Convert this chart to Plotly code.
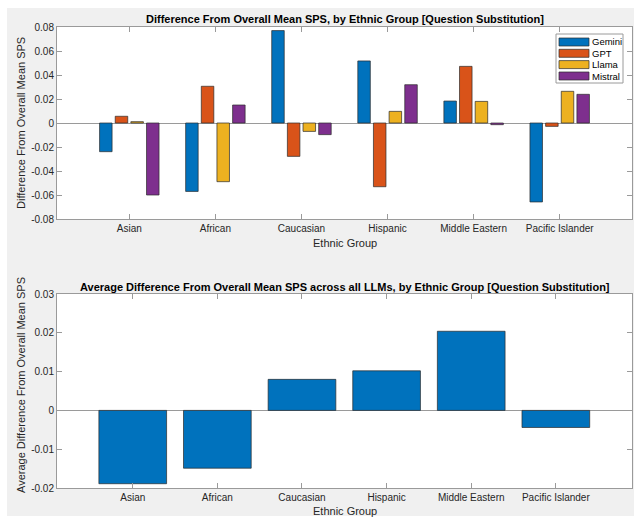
import plotly.graph_objects as go

# ---- data ---------------------------------------------------------------
groups = ["Asian", "African", "Caucasian", "Hispanic", "Middle Eastern", "Pacific Islander"]
models = ["Gemini", "GPT", "Llama", "Mistral"]

gemini = [-0.0239, -0.0570, 0.0770, 0.0517, 0.0183, -0.0658]
gpt = [0.0056, 0.0306, -0.0278, -0.0531, 0.0472, -0.0028]
llama = [0.0011, -0.0489, -0.0070, 0.0097, 0.0180, 0.0264]
mistral = [-0.0600, 0.0150, -0.0097, 0.0319, -0.0014, 0.0239]

avg_diff = [-0.0189, -0.0149, 0.0080, 0.0102, 0.0204, -0.0044]

top_ticks = [-0.08, -0.06, -0.04, -0.02, 0, 0.02, 0.04, 0.06, 0.08]
top_tick_text = ["-0.08", "-0.06", "-0.04", "-0.02", "0", "0.02", "0.04", "0.06", "0.08"]
bot_ticks = [-0.02, -0.01, 0, 0.01, 0.02, 0.03]
bot_tick_text = ["-0.02", "-0.01", "0", "0.01", "0.02", "0.03"]

colors = ["#0072BD", "#D95319", "#EDB120", "#7E2F8E"]

# ---- geometry helpers (pixel -> paper) ----------------------------------
W, H = 634, 523
ML, MR, MT, MB = 57, 2, 27, 35
PW, PH = W - ML - MR, H - MT - MB


def px(x):
    return (x - ML) / PW


def py(y):
    return (H - MB - y) / PH


FONT = "Liberation Sans, Arial, Helvetica, sans-serif"
AXC = "#9a9a9a"
EDGE = "#2b2b2b"

fig = go.Figure()

for name, vals, col in zip(models, [gemini, gpt, llama, mistral], colors):
    fig.add_trace(go.Bar(
        x=groups, y=vals, name=name, xaxis="x", yaxis="y",
        marker=dict(color=col, line=dict(color=EDGE, width=0.7)),
        showlegend=False,
    ))

fig.add_trace(go.Bar(
    x=groups, y=avg_diff, xaxis="x2", yaxis="y2",
    width=0.8, offset=-0.4,
    marker=dict(color=colors[0], line=dict(color=EDGE, width=0.7)),
    showlegend=False,
))

axis_common = dict(
    showline=True, linecolor=AXC, linewidth=1, mirror="ticks",
    ticks="inside", ticklen=5, tickcolor=AXC, tickwidth=1,
    showgrid=False, tickfont=dict(family=FONT, size=10, color="#262626"),
)

fig.update_layout(
    width=W, height=H,
    margin=dict(l=ML, r=MR, t=MT, b=MB),
    paper_bgcolor="white", plot_bgcolor="white",
    barmode="group", bargap=0.2727, bargroupgap=0.2,
    font=dict(family=FONT, color="#262626"),
    xaxis=dict(domain=[0, 1], anchor="y", type="category",
               range=[-0.84, 5.84], **axis_common),
    yaxis=dict(domain=[py(219), 1], anchor="x", range=[-0.08, 0.08],
               tickvals=top_ticks, ticktext=top_tick_text,
               zeroline=True, zerolinecolor=AXC, zerolinewidth=1, **axis_common),
    xaxis2=dict(domain=[0, 1], anchor="y2", type="category",
                range=[-0.895, 5.9], **axis_common),
    yaxis2=dict(domain=[0, py(294)], anchor="x2", range=[-0.02, 0.03],
                tickvals=bot_ticks, ticktext=bot_tick_text,
                zeroline=True, zerolinecolor=AXC, zerolinewidth=1, **axis_common),
)

shapes = [
    # figure panel
    dict(type="rect", xref="paper", yref="paper", layer="below",
         x0=px(7), x1=px(634), y0=py(516), y1=py(8),
         fillcolor="#f0f0f0", line=dict(width=0)),
    # white axes areas
    dict(type="rect", xref="x domain", yref="y domain", layer="below",
         x0=0, x1=1, y0=0, y1=1, fillcolor="white", line=dict(width=0)),
    dict(type="rect", xref="x2 domain", yref="y2 domain", layer="below",
         x0=0, x1=1, y0=0, y1=1, fillcolor="white", line=dict(width=0)),
]

annotations = [
    dict(text="<b>Difference From Overall Mean SPS, by Ethnic Group [Question Substitution]</b>",
         xref="paper", yref="paper", x=0.5, y=py(19), showarrow=False,
         xanchor="center", yanchor="middle", font=dict(size=11, color="#000")),
    dict(text="<b>Average Difference From Overall Mean SPS across all LLMs, by Ethnic Group [Question Substitution]</b>",
         xref="paper", yref="paper", x=0.5, y=py(286.5), showarrow=False,
         xanchor="center", yanchor="middle", font=dict(size=11, color="#000")),
    dict(text="Ethnic Group", xref="paper", yref="paper", x=0.5, y=py(243),
         showarrow=False, xanchor="center", yanchor="middle",
         font=dict(size=11, color="#262626")),
    dict(text="Ethnic Group", xref="paper", yref="paper", x=0.5, y=py(511),
         showarrow=False, xanchor="center", yanchor="middle",
         font=dict(size=11, color="#262626")),
    dict(text="Difference From Overall Mean SPS", xref="paper", yref="paper",
         x=px(21), y=py(123), textangle=-90, showarrow=False,
         xanchor="center", yanchor="middle", font=dict(size=11, color="#262626")),
    dict(text="Average Difference From Overall Mean SPS", xref="paper", yref="paper",
         x=px(21), y=py(385), textangle=-90, showarrow=False,
         xanchor="center", yanchor="middle", font=dict(size=11, color="#262626")),
]

# legend box for the grouped chart
lx0, lx1, ly0, ly1 = 556, 623, 34, 83
shapes.append(dict(type="rect", xref="paper", yref="paper",
                   x0=px(lx0), x1=px(lx1), y0=py(ly1), y1=py(ly0),
                   fillcolor="white", line=dict(color=AXC, width=1)))
row_y = [42, 53.3, 64.6, 76]
for name, col, ry in zip(models, colors, row_y):
    shapes.append(dict(type="rect", xref="paper", yref="paper",
                       x0=px(559), x1=px(589), y0=py(ry + 4), y1=py(ry - 4),
                       fillcolor=col, line=dict(color=EDGE, width=0.7)))
    annotations.append(dict(text=name, xref="paper", yref="paper",
                            x=px(590), y=py(ry), showarrow=False,
                            xanchor="left", yanchor="middle",
                            font=dict(size=9.5, color="#000")))

fig.update_layout(shapes=shapes, annotations=annotations)

fig.write_html("out.html")
